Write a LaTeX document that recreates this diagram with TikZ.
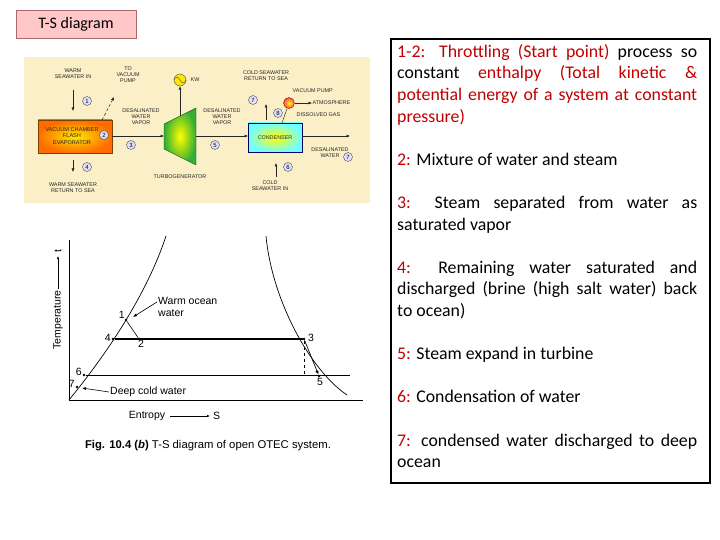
\documentclass[tikz,border=0pt]{standalone}
\usepackage{fontspec}
\setmainfont{Carlito}
\newfontfamily\arial{Liberation Sans}
\usetikzlibrary{arrows.meta,shapes.geometric,calc}
\definecolor{tred}{HTML}{C00000}
\definecolor{beige}{HTML}{FBEFC8}
\tikzset{
 lbl/.style={font=\arial\fontsize{5.4}{6}\selectfont,align=center,text=black!85,inner sep=0.5pt},
 num/.style={circle,draw=black!70,fill=blue!12,inner sep=0pt,minimum size=9pt,font=\arial\fontsize{6}{6}\selectfont},
 arr/.style={-{Latex[length=3.5pt,width=3pt]},black!85,line width=0.5pt},
 tsl/.style={font=\arial\fontsize{10.5}{11.5}\selectfont,inner sep=1pt},
 dot/.style={circle,fill=black,inner sep=0pt,minimum size=2.6pt},
}
\begin{document}
\begin{tikzpicture}[x=1pt,y=-1pt]
\useasboundingbox (0,0) rectangle (720,540);
\fill[white] (0,0) rectangle (720,540);
% title
\node[draw=red!45!black!60,fill=red!22,minimum width=120pt,minimum height=28pt,inner sep=0pt,font=\fontsize{16}{16}\selectfont] (title) at (76,24) {T-S diagram};
% right text box
\node[draw=black,line width=1.6pt,minimum width=319pt,minimum height=444pt,anchor=north west] (box) at (390,38) {};
\node[anchor=north west,text width=300pt,align=justify,inner sep=0pt,font=\fontsize{17.8}{21.6}\selectfont] (txt) at (397,44) {%
\textcolor{tred}{1-2: Throttling (Start point)} process so\linebreak constant \textcolor{tred}{enthalpy (Total kinetic \&}\linebreak \textcolor{tred}{potential energy of a system at constant}\linebreak \textcolor{tred}{pressure)}\par\vspace{21.6pt}
\textcolor{tred}{2:} Mixture of water and steam\par\vspace{21.6pt}
\textcolor{tred}{3:} Steam separated from water as\linebreak saturated vapor\par\vspace{21.6pt}
\textcolor{tred}{4:} Remaining water saturated and\linebreak discharged (brine (high salt water) back\linebreak to ocean)\par\vspace{21.6pt}
\textcolor{tred}{5:} Steam expand in turbine\par\vspace{21.6pt}
\textcolor{tred}{6:} Condensation of water\par\vspace{21.6pt}
\textcolor{tred}{7:} condensed water discharged to deep\linebreak ocean};
% ===== schematic =====
\fill[beige] (24,57) rectangle (370,203);
\shade[inner color=yellow!80!orange,outer color=orange!85!red,draw=orange!50!black] (38,120) rectangle (112,153);
\node[lbl,font=\arial\fontsize{5.6}{6.4}\selectfont] (evap) at (72,136) {VACUUM CHAMBER\\FLASH\\EVAPORATOR};
\coordinate (evR) at (112,136);
\shade[inner color=yellow,outer color=green!60!black!80,draw=green!30!black] (164,124) -- (196,108) -- (196,165) -- (164,149) -- cycle;
\coordinate (tL) at (164,136); \coordinate (tR) at (196,136); \coordinate (tT) at (180,116);
\shade[inner color=yellow,outer color=cyan!55,draw=blue!40!black] (248,123) rectangle (302,152);
\node[lbl] (cond) at (275,137.5) {CONDENSER};
\coordinate (cL) at (248,136); \coordinate (cR) at (302,136); \coordinate (cT) at (282,123);
\node[lbl] (wsi) at (73,74) {WARM\\SEAWATER IN};
\coordinate (a1s) at (73,90); \coordinate (a1e) at (73,111);
\draw[arr] (a1s) -- (a1e);
\node[num] (n1) at (87,101) {1};
\node[num] (n2) at (104,135) {2};
\node[lbl] (tvp) at (128,75) {TO\\VACUUM\\PUMP};
\coordinate (vp0) at (102,120); \coordinate (vp1) at (114,97);
\draw[arr,densely dashed] (vp0) -- (vp1);
\draw[arr] (evR) -- (tL);
\node[lbl] (dwv1) at (141,117) {DESALINATED\\WATER\\VAPOR};
\node[num] (n3) at (131,145) {3};
\coordinate (d4s) at (73,160); \coordinate (d4e) at (73,172);
\draw[arr] (d4s) -- (d4e);
\node[num] (n4) at (87,167) {4};
\node[lbl] (wsr) at (73,188) {WARM SEAWATER\\RETURN TO SEA};
\node[lbl] (tg) at (180,177) {TURBOGENERATOR};
\node[circle,draw=black!70,fill=yellow!90!orange,minimum size=12pt,inner sep=0pt] (kw) at (180,80) {};
\draw[black!70,line width=0.4pt] (kw.west) sin ($(kw.center)+(-3,-3)$) cos (kw.center) sin ($(kw.center)+(3,3)$) cos (kw.east);
\node[lbl,anchor=west] (kwt) at (190,80) {KW};
\draw[arr] (tT) -- (kw.south);
\draw[arr] (tR) -- (cL);
\node[lbl] (dwv2) at (222,117) {DESALINATED\\WATER\\VAPOR};
\node[num] (n5) at (215,145) {5};
\coordinate (out) at (350,136);
\draw[arr] (cR) -- (out);
\node[lbl] (dw) at (330,153) {DESALINATED\\WATER};
\node[num] (n7b) at (348,157) {7};
\coordinate (c6s) at (276,177); \coordinate (c6e) at (276,163);
\draw[arr] (c6s) -- (c6e);
\node[num] (n6) at (288,167) {6};
\node[lbl] (csi) at (270,186) {COLD\\SEAWATER IN};
\node[lbl] (csr) at (266,76) {COLD SEAWATER\\RETURN TO SEA};
\coordinate (r0) at (266,120); \coordinate (r1) at (266,104);
\draw[arr] (r0) -- (r1);
\node[num] (n7a) at (253,100) {7};
\node[circle,draw=red!60!black,inner color=yellow,outer color=red!70,minimum size=11pt,inner sep=0pt] (vpump) at (289,103) {};
\node[lbl,anchor=west] (vpt) at (292,91) {VACUUM PUMP};
\coordinate (atm) at (312,103);
\draw[arr] (vpump) -- (atm);
\node[lbl,anchor=west] (atmt) at (312,103) {ATMOSPHERE};
\draw[black!80,line width=0.5pt] (cT) -- (vpump);
\node[num] (n8) at (278,113) {8};
\node[lbl,anchor=west] (dg) at (296,115) {DISSOLVED GAS};
% ===== T-S diagram =====
\coordinate (O) at (69,400);
\coordinate (ytop) at (69,240);
\coordinate (xend) at (363,400);
\draw[line width=0.8pt] (ytop) -- (O) -- (xend);
\draw[line width=0.7pt] (O) .. controls (100,362) and (145,300) .. (166,236);
\draw[line width=0.7pt] (266,236) .. controls (272,300) and (310,370) .. (347,395);
\node[dot] (p7) at (77,387) {}; \node[dot] (p6) at (84,375) {};
\node[dot] (p4) at (113,339) {}; \node[dot] (p1) at (126,320) {};
\node[dot] (p2) at (139,339) {}; \node[dot] (p3) at (304,339) {};
\node[dot] (p5) at (319,376) {};
\coordinate (e6) at (350,375); \coordinate (d3) at (304,375);
\draw[line width=1.1pt] (p4) -- (p3);
\draw[line width=0.6pt] (p1) -- (p2);
\draw[line width=0.6pt] (p6) -- (e6);
\draw[dashed,line width=0.6pt] (p3) -- (d3);
\draw[-{Latex[length=4pt,width=3.5pt]},line width=0.7pt] (p3) -- (p5);
\node[tsl,anchor=south east] (l1) at (p1) {1};
\node[tsl,anchor=east] (l4) at ($(p4)+(-1,-1)$) {4};
\node[tsl,anchor=north] (l2) at ($(p2)+(2,0)$) {2};
\node[tsl,anchor=west] (l3) at ($(p3)+(3,-1)$) {3};
\node[tsl,anchor=north] (l5) at ($(p5)+(1,1)$) {5};
\node[tsl,anchor=east] (l6) at ($(p6)+(-1,-3)$) {6};
\node[tsl,anchor=east] (l7) at ($(p7)+(-1,-3)$) {7};
\node[tsl,anchor=west,align=left] (wow) at (157,307) {Warm ocean\\water};
\coordinate (wowa) at (157,302);
\draw[-{Latex[length=4pt,width=3pt]},line width=0.6pt] (wowa) -- (133,317);
\node[tsl,anchor=west] (dcw) at (109,392) {Deep cold water};
\draw[-{Latex[length=4pt,width=3pt]},line width=0.6pt] (dcw.west) -- (82,388);
\node[tsl,rotate=90] (temp) at (58,320) {Temperature};
\coordinate (ta1) at (58,256);
\draw[-{Latex[length=3pt,width=2.5pt]},line width=0.6pt] (temp.east) -- (ta1);
\node[tsl,rotate=90,anchor=west] (tt) at (58,254) {t};
\node[tsl] (ent) at (147,416) {Entropy};
\coordinate (sa) at (210,416); \coordinate (sb) at (170,416);
\draw[-{Latex[length=3pt,width=2.5pt]},line width=0.6pt] (sb) -- (sa);
\node[tsl,anchor=west] (s) at (212,416) {S};
\node[font=\arial\fontsize{11.3}{12}\selectfont] (cap) at (208,446) {\textbf{Fig. 10.4 (\textit{b})} T-S diagram of open OTEC system.};
\end{tikzpicture}
\end{document}
